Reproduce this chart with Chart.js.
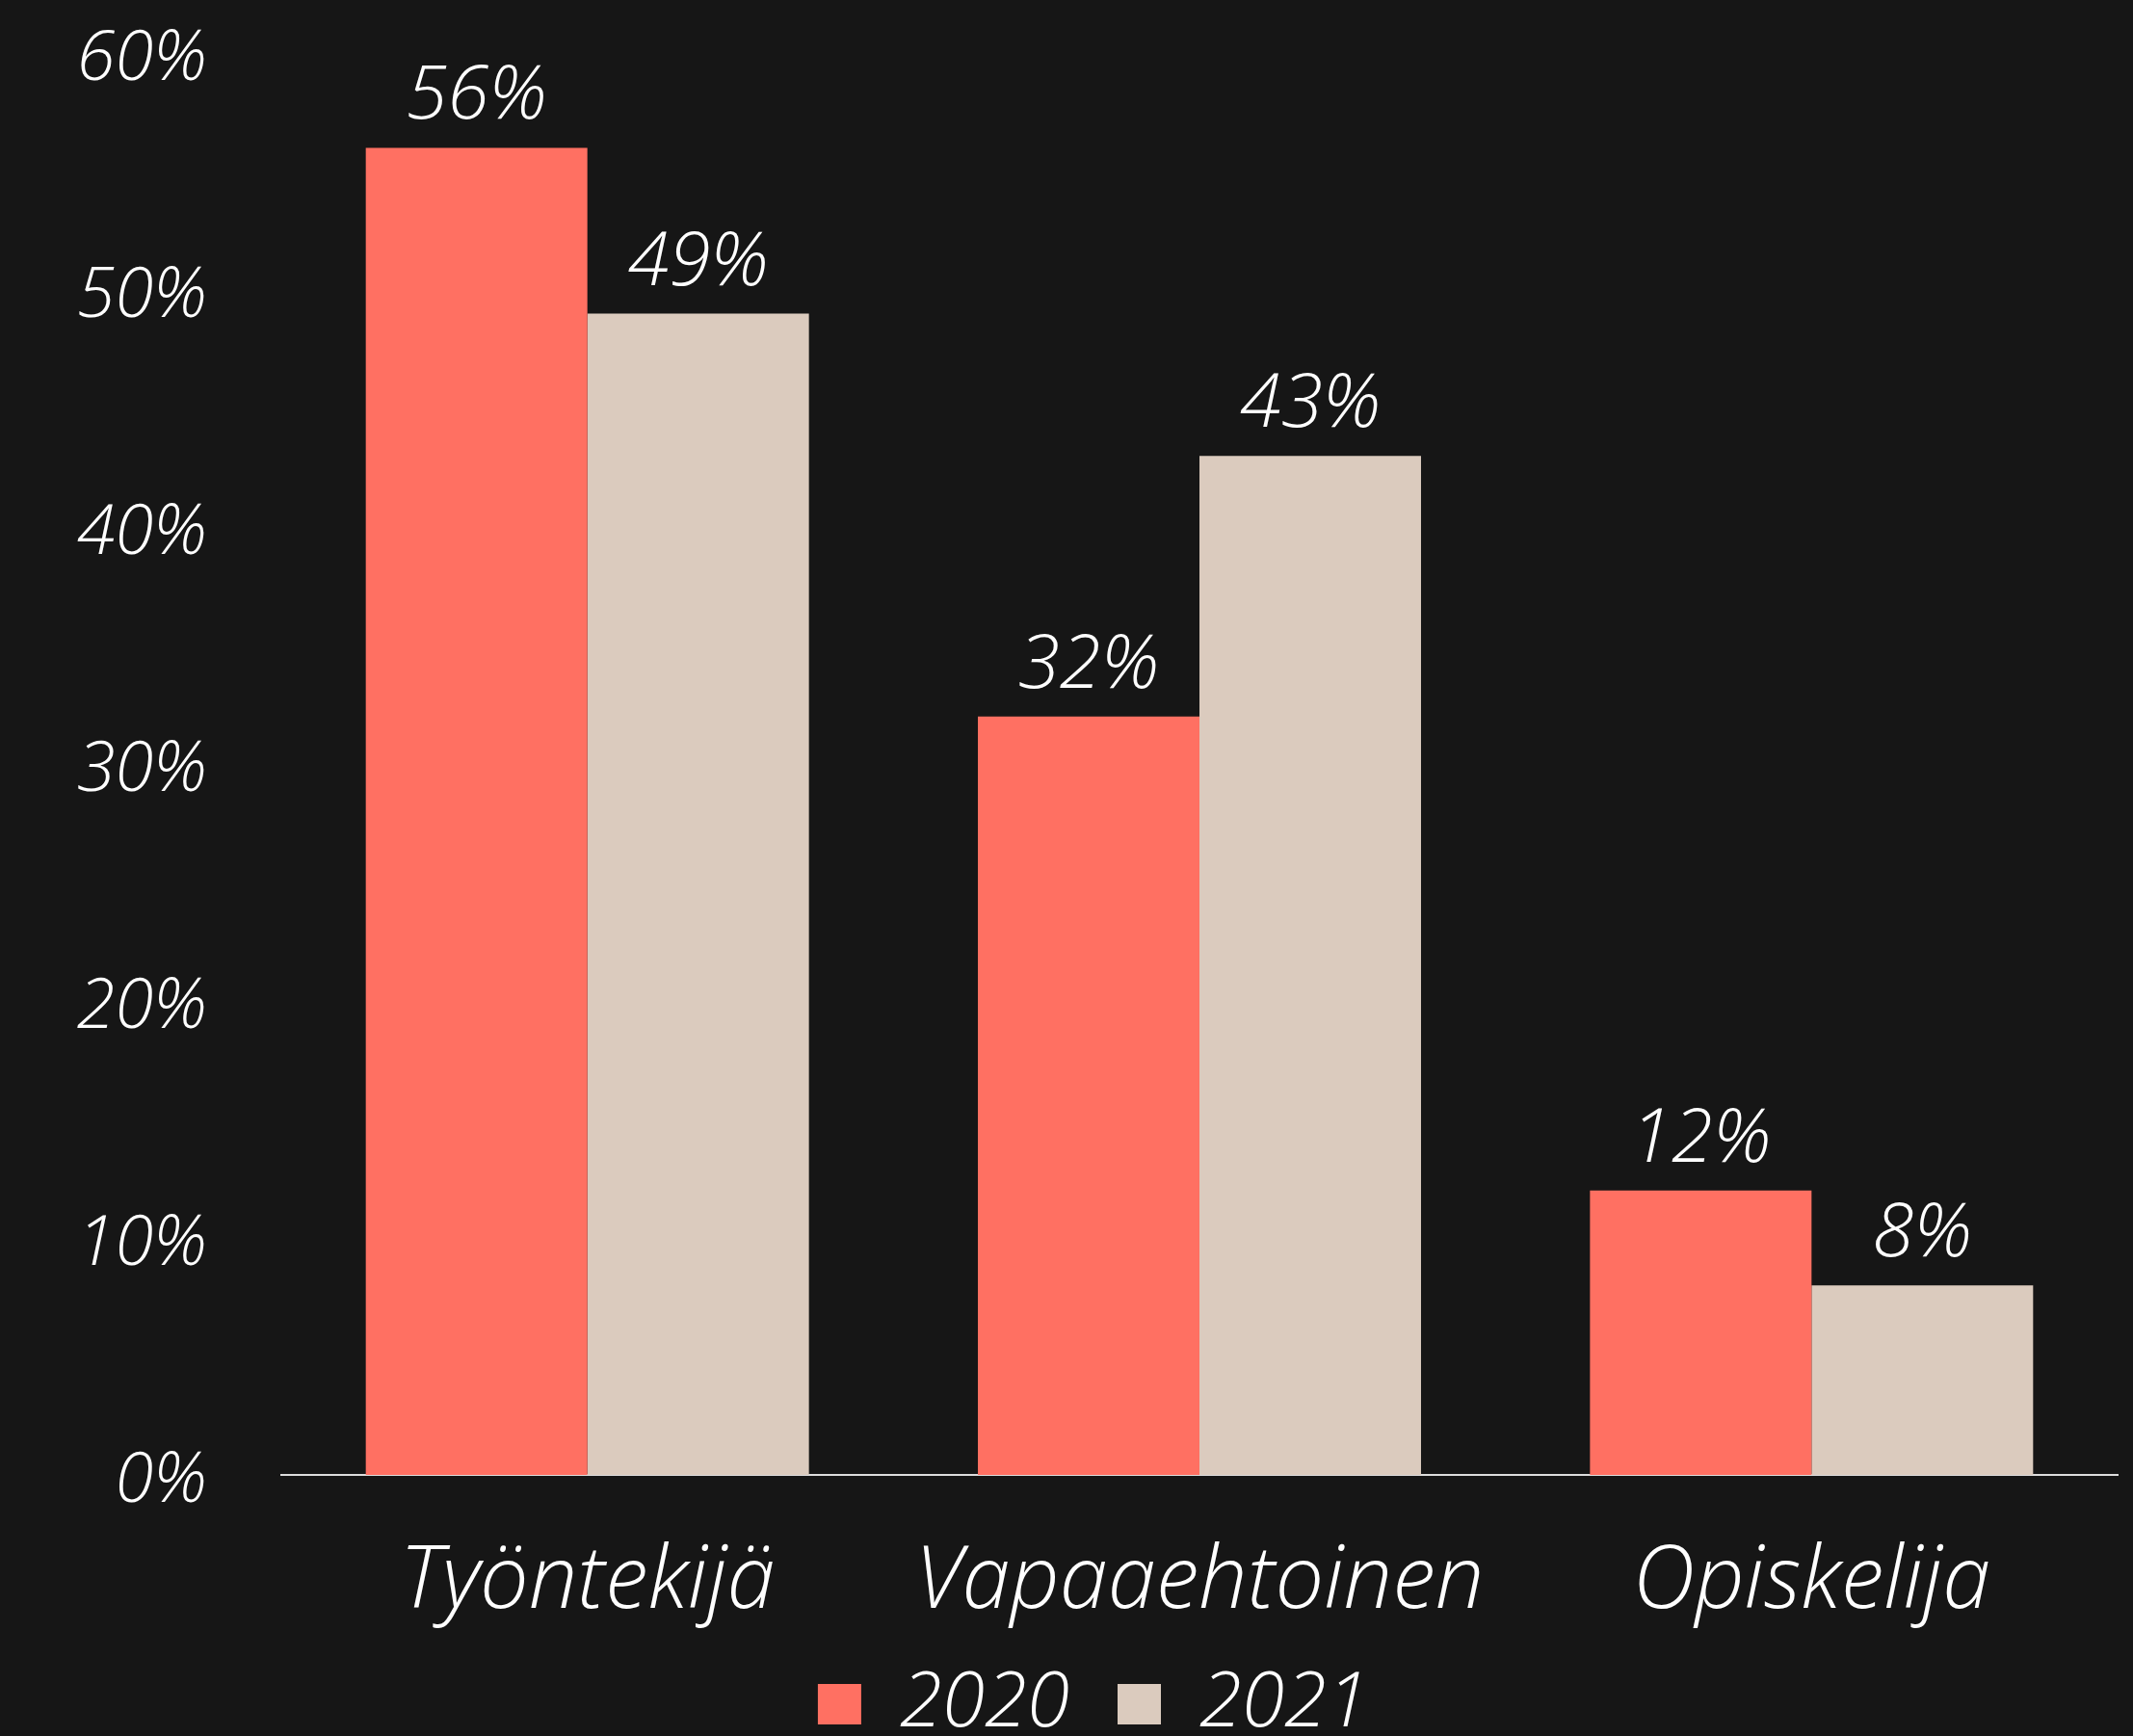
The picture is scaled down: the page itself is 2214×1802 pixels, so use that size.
<!DOCTYPE html>
<html>
<head>
<meta charset="utf-8">
<script src="https://cdn.jsdelivr.net/npm/chart.js@4/dist/chart.umd.min.js"></script>
<style>
  html, body { margin: 0; padding: 0; background: #161616; }
  #wrap { width: 2214px; height: 1802px; }
</style>
</head>
<body>
<div id="wrap"><canvas id="chart" width="2214" height="1802"></canvas></div>
<script>
const categories = ["Työntekijä", "Vapaaehtoinen", "Opiskelija"];
const seriesNames = ["2020", "2021"];
const values2020 = [56, 32, 12];
const values2021 = [49, 43, 8];
const yTicks = [0, 10, 20, 30, 40, 50, 60];

const fontFamily = "'Open Sans', Lato, sans-serif";
const textColor = "#ffffff";

// draws the "56%" style labels above each bar
const valueLabels = {
  id: "valueLabels",
  afterDatasetsDraw(chart) {
    const ctx = chart.ctx;
    ctx.save();
    ctx.fillStyle = textColor;
    ctx.font = "italic 300 78px " + fontFamily;
    ctx.textAlign = "center";
    ctx.textBaseline = "alphabetic";
    chart.data.datasets.forEach((ds, i) => {
      const meta = chart.getDatasetMeta(i);
      meta.data.forEach((bar, j) => {
        ctx.fillText(ds.data[j] + "%", bar.x, bar.y - 30);
      });
    });
    ctx.restore();
  },
};

// nudge the legend a bit right and down, like the original
const legendNudge = {
  id: "legendNudge",
  afterLayout(chart) {
    const lg = chart.legend;
    lg.left += 36;
    lg.right += 36;
    lg.top += 17;
    lg.bottom += 17;
  },
};

const chart = new Chart(document.getElementById("chart"), {
  type: "bar",
  data: {
    labels: categories,
    datasets: [
      { label: seriesNames[0], data: values2020, backgroundColor: "#ff7062" },
      { label: seriesNames[1], data: values2021, backgroundColor: "#dbcbbe" },
    ],
  },
  options: {
    responsive: false,
    animation: false,
    devicePixelRatio: 1,
    categoryPercentage: 0.724,
    barPercentage: 1.0,
    layout: { padding: { top: 0, right: 16, left: 0, bottom: 0 } },
    scales: {
      x: {
        grid: { display: false, drawTicks: false },
        border: { display: true, color: "#dddddd", width: 2 },
        afterFit(scale) {
          scale.height = 171;
        },
        ticks: {
          color: textColor,
          padding: 58,
          font: { family: fontFamily, size: 90, style: "italic", weight: 300 },
        },
      },
      y: {
        min: yTicks[0],
        max: yTicks[yTicks.length - 1],
        grid: { display: false, drawTicks: false },
        border: { display: false },
        afterFit(scale) {
          scale.width = 292;
          scale.paddingTop = 55;
        },
        afterBuildTicks(scale) {
          scale.ticks = yTicks.map((v) => ({ value: v }));
        },
        ticks: {
          color: textColor,
          padding: 77,
          labelOffset: 7,
          font: { family: fontFamily, size: 72, style: "italic", weight: 300 },
          callback: (v) => v + "%",
        },
      },
    },
    plugins: {
      tooltip: { enabled: false },
      legend: {
        position: "bottom",
        labels: {
          color: textColor,
          boxWidth: 45,
          boxHeight: 42,
          padding: 10,
          font: { family: fontFamily, size: 80, style: "italic", weight: 300 },
          generateLabels(chart) {
            const items = Chart.defaults.plugins.legend.labels.generateLabels(chart);
            items.forEach((it, i) => {
              if (i < items.length - 1) it.text = it.text + "\u2002";
            });
            return items;
          },
        },
      },
    },
  },
  plugins: [valueLabels, legendNudge],
});
</script>
</body>
</html>
